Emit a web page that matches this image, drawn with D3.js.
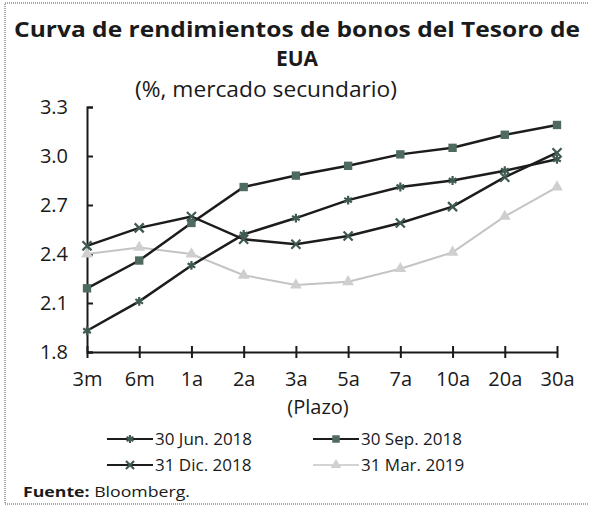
<!DOCTYPE html>
<html>
<head>
<meta charset="utf-8">
<script src="https://cdn.jsdelivr.net/npm/d3@7"></script>
<style>
  body { margin: 0; background: #fff; }
  text { font-family: "Open Sans", sans-serif; fill: #1a1a1a; }
</style>
</head>
<body>
<script>
var plazos  = ['3m','6m','1a','2a','3a','5a','7a','10a','20a','30a'];
var jun2018 = [1.93, 2.11, 2.33, 2.52, 2.62, 2.73, 2.81, 2.85, 2.91, 2.98];
var sep2018 = [2.19, 2.36, 2.59, 2.81, 2.88, 2.94, 3.01, 3.05, 3.13, 3.19];
var dic2018 = [2.45, 2.56, 2.63, 2.49, 2.46, 2.51, 2.59, 2.69, 2.87, 3.02];
var mar2019 = [2.40, 2.44, 2.40, 2.27, 2.21, 2.23, 2.31, 2.41, 2.63, 2.81];
var yTicks  = [1.8, 2.1, 2.4, 2.7, 3.0, 3.3];

var series = [
  {name: '30 Jun. 2018', values: jun2018, sym: d3.symbolAsterisk, line: '#1c1c1c', mark: '#3f5a4e', fillMark: false},
  {name: '30 Sep. 2018', values: sep2018, sym: d3.symbolSquare,   line: '#1c1c1c', mark: '#4f6a5e', fillMark: true},
  {name: '31 Dic. 2018', values: dic2018, sym: d3.symbolTimes,    line: '#1c1c1c', mark: '#3f5a4e', fillMark: false},
  {name: '31 Mar. 2019', values: mar2019, sym: d3.symbolTriangle, line: '#c4c4c4', mark: '#cfcfcf', fillMark: true}
];

var W = 589, H = 509;
var svg = d3.select('body').append('svg')
            .attr('width', W)
            .attr('height', H);

// frame
svg.append('rect')
   .attr('x', 5).attr('y', 3)
   .attr('width', 590).attr('height', 501)
   .attr('fill', 'none')
   .attr('stroke', '#8a8a8a')
   .attr('stroke-width', 1.5)
   .attr('stroke-dasharray', '1,1');

// titles
svg.append('text').attr('x', 14).attr('y', 37)
   .attr('font-size', 21).attr('font-weight', 'bold')
   .attr('textLength', 566).attr('lengthAdjust', 'spacingAndGlyphs')
   .text('Curva de rendimientos de bonos del Tesoro de');
svg.append('text').attr('x', 297).attr('y', 66)
   .attr('text-anchor', 'middle').attr('font-size', 21).attr('font-weight', 'bold')
   .text('EUA');
svg.append('text').attr('x', 135).attr('y', 97)
   .attr('font-size', 21)
   .attr('textLength', 262).attr('lengthAdjust', 'spacingAndGlyphs')
   .text('(%, mercado secundario)');

var x = d3.scalePoint().domain(plazos).range([87, 557]);
var y = d3.scaleLinear().domain([1.8, 3.3]).range([352, 107]);

// y axis
var yAxis = svg.append('g').attr('transform', 'translate(87,0)')
   .call(d3.axisRight(y).tickValues(yTicks).tickSize(6).tickFormat(d3.format('.1f')));
yAxis.select('.domain').attr('stroke', '#1a1a1a').attr('stroke-width', 2);
yAxis.selectAll('.tick line').attr('stroke', '#1a1a1a').attr('stroke-width', 2);
yAxis.selectAll('.tick text').attr('x', -19).attr('text-anchor', 'end')
     .attr('font-size', 20).attr('font-family', '"Open Sans", sans-serif').attr('fill', '#1a1a1a');

// x axis
var xAxis = svg.append('g').attr('transform', 'translate(0,352)')
   .call(d3.axisBottom(x).tickSize(6).tickSizeOuter(0));
xAxis.select('.domain').attr('stroke', '#1a1a1a').attr('stroke-width', 2);
xAxis.selectAll('.tick line').attr('stroke', '#1a1a1a').attr('stroke-width', 2)
     .attr('y1', -6).attr('y2', 6);
xAxis.selectAll('.tick text').attr('y', 20)
     .attr('font-size', 20).attr('font-family', '"Open Sans", sans-serif').attr('fill', '#1a1a1a');

svg.append('text').attr('x', 318).attr('y', 414)
   .attr('text-anchor', 'middle').attr('font-size', 20)
   .text('(Plazo)');

// lines
var line = d3.line()
   .x(function(d, i){ return x(plazos[i]); })
   .y(function(d){ return y(d); });

function drawMarker(g, s, cx, cy, scale){
  var sz = s.sym === d3.symbolSquare ? 70 : (s.sym === d3.symbolTriangle ? 60 : 55);
  var p = g.append('path')
     .attr('d', d3.symbol().type(s.sym).size(sz * (scale || 1)))
     .attr('transform', 'translate(' + cx + ',' + cy + ')');
  if (s.fillMark) p.attr('fill', s.mark).attr('stroke', 'none');
  else p.attr('fill', 'none').attr('stroke', s.mark).attr('stroke-width', 2.2);
}

// draw in order so the light series sits behind
var order = [3, 1, 0, 2];
order.forEach(function(k){
  var s = series[k];
  var g = svg.append('g');
  g.append('path')
   .attr('d', line(s.values))
   .attr('fill', 'none')
   .attr('stroke', s.line)
   .attr('stroke-width', k === 3 ? 2 : 2.5);
  s.values.forEach(function(v, i){
    drawMarker(g, s, x(plazos[i]), y(v));
  });
});

// legend
var legPos = [[107, 439], [313, 439], [107, 465], [313, 465]];
series.forEach(function(s, i){
  var lx = legPos[i][0], ly = legPos[i][1];
  var g = svg.append('g');
  g.append('line')
   .attr('x1', lx).attr('x2', lx + 46)
   .attr('y1', ly).attr('y2', ly)
   .attr('stroke', s.line).attr('stroke-width', i === 3 ? 1.4 : 1.8);
  drawMarker(g, s, lx + 23, ly, 0.8);
  g.append('text').attr('x', lx + 48).attr('y', ly + 6)
   .attr('font-size', 17).text(s.name);
});

// source
var src = svg.append('text').attr('x', 23).attr('y', 497).attr('font-size', 15)
   .attr('textLength', 167).attr('lengthAdjust', 'spacingAndGlyphs');
src.append('tspan').attr('font-weight', 'bold').text('Fuente: ');
src.append('tspan').text('Bloomberg.');
</script>
</body>
</html>
